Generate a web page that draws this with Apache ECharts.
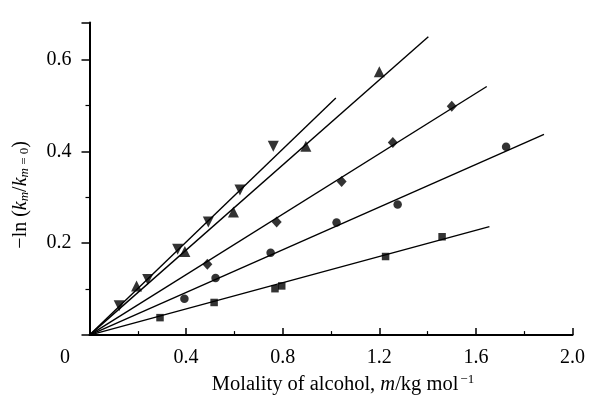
<!DOCTYPE html>
<html>
<head>
<meta charset="utf-8">
<script src="https://cdn.jsdelivr.net/npm/echarts@6/dist/echarts.min.js"></script>
<style>html,body{margin:0;padding:0;background:#fff}#c{width:589px;height:400px}</style>
</head>
<body>
<div id="c"></div>
<script>
// Data
const xTicks = [0, 0.4, 0.8, 1.2, 1.6, 2.0];
const yTicks = [0, 0.2, 0.4, 0.6];

const downTriX = [0.123, 0.241, 0.365, 0.492, 0.623, 0.761];
const downTriY = [0.064, 0.121, 0.187, 0.246, 0.316, 0.411];
const upTriX = [0.195, 0.395, 0.596, 0.896, 1.20];
const upTriY = [0.107, 0.182, 0.268, 0.411, 0.573];
const diamondX = [0.488, 0.775, 1.044, 1.256, 1.50];
const diamondY = [0.154, 0.246, 0.334, 0.419, 0.498];
const circleX = [0.393, 0.522, 0.750, 1.023, 1.276, 1.725];
const circleY = [0.079, 0.124, 0.179, 0.245, 0.284, 0.410];
const squareX = [0.292, 0.516, 0.768, 0.796, 1.226, 1.460];
const squareY = [0.038, 0.071, 0.101, 0.107, 0.171, 0.214];

// Fitted lines: start (origin) and end points
const fitStartX = [0, 0, 0, 0, 0];
const fitStartY = [0, 0, 0, 0, 0];
const fitEndX = [1.020, 1.403, 1.645, 1.882, 1.656];
const fitEndY = [0.516, 0.649, 0.541, 0.437, 0.236];

const zip = (xs, ys) => xs.map((x, i) => [x, ys[i]]);
const serif = 'Liberation Serif';

const pointSeries = [
  {data: zip(downTriX, downTriY), symbol: 'triangle', symbolRotate: 180, symbolSize: 11},
  {data: zip(upTriX, upTriY), symbol: 'triangle', symbolSize: 11},
  {data: zip(diamondX, diamondY), symbol: 'diamond', symbolSize: [10, 11]},
  {data: zip(circleX, circleY), symbol: 'circle', symbolSize: 8.5},
  {data: zip(squareX, squareY), symbol: 'rect', symbolSize: 7.5}
].map(s => Object.assign({type: 'scatter', itemStyle: {color: '#000'}, z: 3}, s));

const lineSeries = fitEndX.map((ex, i) => ({
  type: 'line',
  data: [[fitStartX[i], fitStartY[i]], [ex, fitEndY[i]]],
  symbol: 'none',
  lineStyle: {color: '#000', width: 1.4},
  z: 2
}));

const chart = echarts.init(document.getElementById('c'));
chart.setOption({
  animation: false,
  backgroundColor: '#fff',
  grid: {left: 89.5, right: 16.5, top: 22.6, bottom: 60, containLabel: false},
  xAxis: {
    type: 'value', min: xTicks[0], max: xTicks[xTicks.length - 1], interval: 0.4,
    axisLine: {lineStyle: {color: '#000', width: 2}},
    axisTick: {inside: true, length: 7, lineStyle: {color: '#000', width: 1.5}},
    minorTick: {show: true, splitNumber: 2, length: 4, lineStyle: {color: '#000', width: 1.2}},
    splitLine: {show: false},
    axisLabel: {
      margin: 13, color: '#000', fontFamily: serif, fontSize: 20,
      formatter: v => v === 0 ? '{z|0}' : v.toFixed(1),
      rich: {z: {fontFamily: serif, fontSize: 20, color: '#000', padding: [0, 49, 0, 0]}}
    },
    name: '{t|Molality of alcohol, }{i|m}{t|/kg mol}{sup|−1}',
    nameLocation: 'middle', nameGap: 34,
    nameTextStyle: {
      fontFamily: serif, fontSize: 20.5, color: '#000', padding: [0, 0, 0, 24],
      rich: {
        t: {fontFamily: serif, fontSize: 20.5, color: '#000'},
        i: {fontFamily: serif, fontSize: 20.5, fontStyle: 'italic', color: '#000'},
        sup: {fontFamily: serif, fontSize: 13, color: '#000', verticalAlign: 'top', padding: [0, 0, 10, 2]}
      }
    }
  },
  yAxis: {
    type: 'value', min: yTicks[0], max: 0.68, interval: 0.2,
    axisLine: {lineStyle: {color: '#000', width: 2}},
    axisTick: {inside: false, length: 8, lineStyle: {color: '#000', width: 1.5}},
    minorTick: {show: true, splitNumber: 2, length: 4, lineStyle: {color: '#000', width: 1.2}},
    splitLine: {show: false},
    axisLabel: {
      margin: 18, color: '#000', fontFamily: serif, fontSize: 20,
      formatter: v => yTicks.includes(+v.toFixed(1)) && v !== 0 ? v.toFixed(1) : ''
    },
    name: '{t|−ln (}{i|k}{si|m}{t|/}{i|k}{si|m}{sn| = 0}{t|)}',
    nameLocation: 'middle', nameRotate: 90, nameGap: 58,
    nameTextStyle: {
      fontFamily: serif, fontSize: 20, color: '#000', padding: [0, 32, 0, 0],
      rich: {
        t: {fontFamily: serif, fontSize: 20, color: '#000'},
        i: {fontFamily: serif, fontSize: 20, fontStyle: 'italic', color: '#000'},
        si: {fontFamily: serif, fontSize: 13, fontStyle: 'italic', color: '#000', verticalAlign: 'bottom', padding: [8, 0, 0, 0]},
        sn: {fontFamily: serif, fontSize: 13, color: '#000', verticalAlign: 'bottom', padding: [8, 0, 0, 0]}
      }
    }
  },
  series: lineSeries.concat(pointSeries)
});
</script>
</body>
</html>
